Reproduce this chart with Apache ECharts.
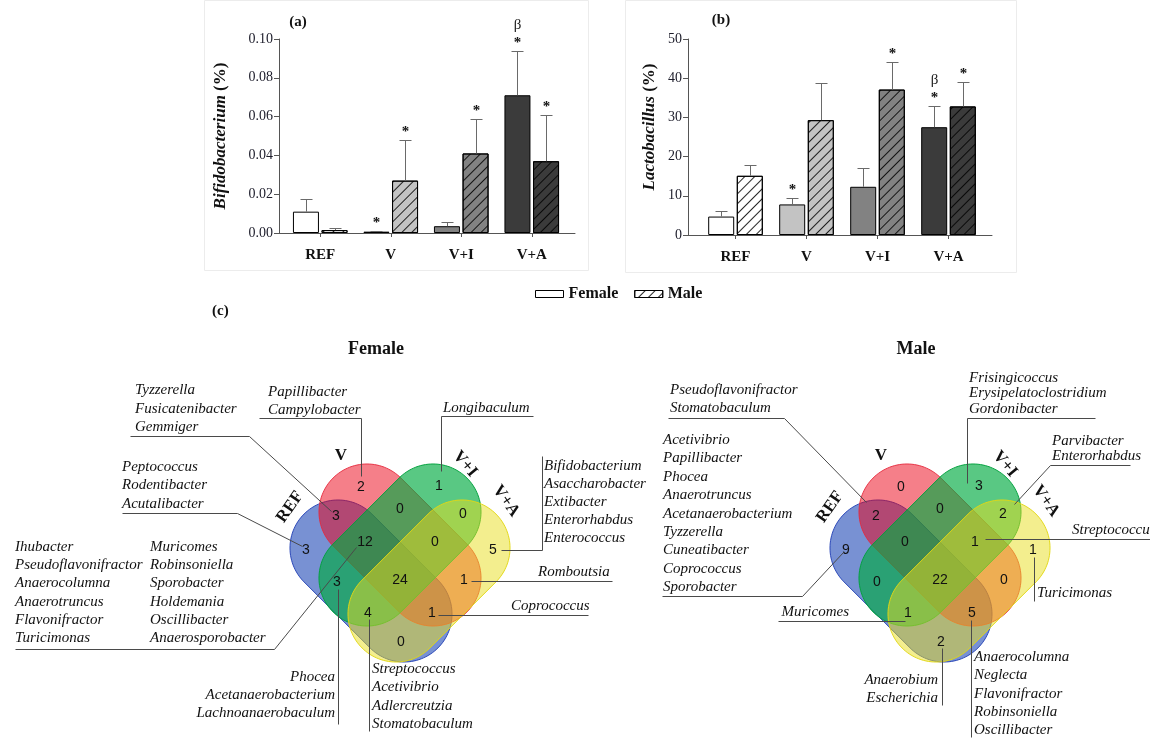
<!DOCTYPE html>
<html><head><meta charset="utf-8">
<script src="https://cdn.jsdelivr.net/npm/echarts@6/dist/echarts.min.js"></script>
<style>html,body{margin:0;padding:0;background:#fff}#c{width:1150px;height:740px}</style>
</head><body><div id="c"></div>
<script>
// ================= DATA =================
const groups = ['REF', 'V', 'V+I', 'V+A'];
const sexes = ['Female', 'Male'];
// (a) Bifidobacterium (%)
const bifidoTickLabels = ['0.00', '0.02', '0.04', '0.06', '0.08', '0.10'];
const bifidoFemale   = [0.011, 0.0007, 0.0035, 0.071];
const bifidoFemaleSD = [0.0063, 0.0003, 0.0023, 0.023];
const bifidoMale     = [0.0015, 0.027, 0.041, 0.037];
const bifidoMaleSD   = [0.0009, 0.021, 0.018, 0.024];
const bifidoFemaleStar = [0, 1, 0, 1];
const bifidoFemaleBeta = [0, 0, 0, 1];
const bifidoMaleStar   = [0, 1, 1, 1];
const bifidoMaleBeta   = [0, 0, 0, 0];
// (b) Lactobacillus (%)
const lactoTickLabels = ['0', '10', '20', '30', '40', '50'];
const lactoFemale   = [4.7, 7.8, 12.3, 27.5];
const lactoFemaleSD = [1.3, 1.6, 4.9, 5.3];
const lactoMale     = [15.1, 29.3, 37.1, 32.8];
const lactoMaleSD   = [2.8, 9.4, 7.0, 6.2];
const lactoFemaleStar = [0, 1, 0, 1];
const lactoFemaleBeta = [0, 0, 0, 1];
const lactoMaleStar   = [0, 0, 1, 1];
const lactoMaleBeta   = [0, 0, 0, 0];
// (c) Venn diagrams
const vennSets = ['REF', 'V', 'V+I', 'V+A'];
const vennRegions = ['V', 'V+I', 'REF∩V', 'V∩V+I', 'V+I∩V+A', 'REF', 'REF∩V∩V+I', 'V∩V+I∩V+A',
  'V+A', 'REF∩V+I', 'ALL', 'V∩V+A', 'REF∩V+I∩V+A', 'REF∩V∩V+A', 'REF∩V+A'];
const femaleCounts = [2, 1, 3, 0, 0, 3, 12, 0, 5, 3, 24, 1, 4, 1, 0];
const maleCounts   = [0, 3, 2, 0, 2, 9, 0, 1, 1, 0, 22, 0, 1, 5, 2];
// genera lists (female)
const fRefV = ['Tyzzerella', 'Fusicatenibacter', 'Gemmiger'];
const fV = ['Papillibacter', 'Campylobacter'];
const fVI = ['Longibaculum'];
const fRef = ['Peptococcus', 'Rodentibacter', 'Acutalibacter'];
const fRefVVIcol1 = ['Ihubacter', 'Pseudoflavonifractor', 'Anaerocolumna', 'Anaerotruncus', 'Flavonifractor', 'Turicimonas'];
const fRefVVIcol2 = ['Muricomes', 'Robinsoniella', 'Sporobacter', 'Holdemania', 'Oscillibacter', 'Anaerosporobacter'];
const fVA = ['Bifidobacterium', 'Asaccharobacter', 'Extibacter', 'Enterorhabdus', 'Enterococcus'];
const fVVA = ['Romboutsia'];
const fRefVVA = ['Coprococcus'];
const fRefVI = ['Phocea', 'Acetanaerobacterium', 'Lachnoanaerobaculum'];
const fRefVIVA = ['Streptococcus', 'Acetivibrio', 'Adlercreutzia', 'Stomatobaculum'];
// genera lists (male)
const mRefV = ['Pseudoflavonifractor', 'Stomatobaculum'];
const mRef = ['Acetivibrio', 'Papillibacter', 'Phocea', 'Anaerotruncus', 'Acetanaerobacterium', 'Tyzzerella', 'Cuneatibacter', 'Coprococcus', 'Sporobacter'];
const mVI = ['Frisingicoccus', 'Erysipelatoclostridium', 'Gordonibacter'];
const mVIVA = ['Parvibacter', 'Enterorhabdus'];
const mVVIVA = ['Streptococcus'];
const mVA = ['Turicimonas'];
const mRefVIVA = ['Muricomes'];
const mRefVA = ['Anaerobium', 'Escherichia'];
const mRefVVA = ['Anaerocolumna', 'Neglecta', 'Flavonifractor', 'Robinsoniella', 'Oscillibacter'];

// ================= STYLE / LAYOUT =================
const SERIF = '"Liberation Serif", "Times New Roman", serif';
const SANS = '"Liberation Sans", Arial, sans-serif';
const groupFill = ['#ffffff', '#c3c3c3', '#828282', '#3b3b3b'];
const hatch = { symbol: 'rect', symbolSize: 1, dashArrayX: [1, 0], dashArrayY: [1, 6], rotation: -Math.PI / 4, color: 'rgba(0,0,0,0.85)' };
const BAR_W = 26, HALF_OFF = 14.3;

function barSeries(name, values, axisIdx, male) {
  const st = { color: '#ffffff', borderColor: '#000', borderWidth: 1 };
  if (male) st.decal = hatch;
  return {
    type: 'bar', name, xAxisIndex: axisIdx, yAxisIndex: axisIdx, barWidth: BAR_W, barGap: '10%',
    itemStyle: st, silent: true,
    data: values.map((v, i) => ({ value: v, itemStyle: { color: groupFill[i] } }))
  };
}
function errSeries(values, sds, stars, betas, axisIdx, side) {
  return {
    type: 'custom', xAxisIndex: axisIdx, yAxisIndex: axisIdx, silent: true, z: 5,
    data: values.map((v, i) => [i, v, sds[i], stars[i], betas[i]]),
    renderItem(params, api) {
      const i = api.value(0), v = api.value(1), sd = api.value(2);
      const base = api.coord([i, v]);
      const top = api.coord([i, v + sd]);
      const x = Math.round(base[0] + side * HALF_OFF) + 0.5;
      const yt = Math.round(top[1]) + 0.5;
      const ch = [
        { type: 'line', shape: { x1: x, y1: base[1], x2: x, y2: yt }, style: { stroke: '#6a6a6a', lineWidth: 1 } },
        { type: 'line', shape: { x1: x - 6, y1: yt, x2: x + 6, y2: yt }, style: { stroke: '#6a6a6a', lineWidth: 1 } }
      ];
      if (api.value(3)) ch.push({ type: 'text', x: x, y: yt - 1, style: { text: '*', font: 'bold 15px ' + SERIF, fill: '#111', align: 'center', verticalAlign: 'bottom' } });
      if (api.value(4)) ch.push({ type: 'text', x: x, y: yt - 19, style: { text: 'β', font: '15px ' + SERIF, fill: '#222', align: 'center', verticalAlign: 'bottom' } });
      return { type: 'group', children: ch };
    }
  };
}
function frameX(gi) {
  return { gridIndex: gi, type: 'value', min: 0, max: 1, axisLine: { show: true, lineStyle: { color: '#555', width: 1 } },
    axisTick: { show: false }, axisLabel: { show: false }, splitLine: { show: false } };
}
function catX(gi) {
  return { gridIndex: gi, type: 'category', data: groups, axisLine: { show: true, lineStyle: { color: '#555' } },
    axisTick: { show: true, alignWithLabel: true, length: 4, lineStyle: { color: '#555' } },
    axisLabel: { fontFamily: SERIF, fontWeight: 'bold', fontSize: 15, color: '#111', margin: 15 } };
}
function valY(gi, max, interval, labels, title, gap, show, shiftUp) {
  const o = { gridIndex: gi, type: 'value', min: 0, max, interval, splitLine: { show: false } };
  if (!show) { o.show = false; return o; }
  Object.assign(o, {
    axisLine: { show: true, lineStyle: { color: '#555' } },
    axisTick: { show: true, length: 5, lineStyle: { color: '#555' } },
    axisLabel: { fontFamily: SERIF, fontSize: 14, color: '#1c1c2a', margin: 6, formatter: (v, idx) => labels[idx] },
    name: '{i|' + title + '} (%)', nameLocation: 'middle', nameGap: gap, nameRotate: 90,
    nameTextStyle: { fontFamily: SERIF, fontWeight: 'bold', fontSize: 17, color: '#111', padding: [0, 0, 0, 2 * shiftUp],
      rich: { i: { fontFamily: SERIF, fontWeight: 'bold', fontStyle: 'italic', fontSize: 17, color: '#111' } } }
  });
  return o;
}

// ---------- graphic helpers ----------
const G = [];
function txt(x, y, text, font, align, vAlign, rot, fill) {
  G.push({ type: 'text', x, y, rotation: rot || 0, silent: true,
    style: { text, font, fill: fill || '#111', align: align || 'left', verticalAlign: vAlign || 'middle' } });
}
function pline(points, color) {
  G.push({ type: 'polyline', silent: true, shape: { points: points.map(p => [Math.round(p[0]) + 0.5, Math.round(p[1]) + 0.5]) },
    style: { stroke: color || '#4a4a4a', lineWidth: 1, fill: null } });
}
// stadium (capsule) outline: centre, half distance between cap centres L, cap radius w, axis angle phi
function stadiumPts(cx, cy, L, w, phi) {
  const ux = Math.cos(phi), uy = Math.sin(phi), pts = [], n = 60;
  for (let k = 0; k <= n; k++) { const t = phi - Math.PI / 2 + Math.PI * k / n; pts.push([cx + L * ux + w * Math.cos(t), cy + L * uy + w * Math.sin(t)]); }
  for (let k = 0; k <= n; k++) { const t = phi + Math.PI / 2 + Math.PI * k / n; pts.push([cx - L * ux + w * Math.cos(t), cy - L * uy + w * Math.sin(t)]); }
  return pts;
}
const CAP_L = 46.7, CAP_W = 48;
const vennShapes = [
  { set: 'REF', dx: -29, dy: 36, phi: Math.PI / 4, fill: 'rgba(10,55,175,0.55)', stroke: 'rgba(30,60,180,0.9)' },
  { set: 'V',   dx: 0, dy: 0, phi: Math.PI / 4, fill: 'rgba(235,0,20,0.5)', stroke: 'rgba(230,40,60,0.9)' },
  { set: 'V+I', dx: 0, dy: 0, phi: -Math.PI / 4, fill: 'rgba(0,170,65,0.65)', stroke: 'rgba(0,160,60,0.95)' },
  { set: 'V+A', dx: 29, dy: 36, phi: -Math.PI / 4, fill: 'rgba(232,222,30,0.5)', stroke: 'rgba(225,215,20,0.95)' }
];
const regionPos = [[-39, -58], [39, -59], [-64, -29], [0, -36], [63, -31], [-94, 5], [-35, -3], [35, -3],
  [93, 5], [-63, 37], [0, 35], [64, 35], [-32, 68], [32, 68], [1, 97]];
const setLabelPos = { 'REF': [-110, -38, 0.96], 'V': [-59, -89, 0], 'V+I': [65, -81, -0.87], 'V+A': [106, -44, -0.96] };

function drawVenn(cx, cy, titleX, title, counts) {
  txt(titleX, 349, title, 'bold 18px ' + SERIF, 'center', 'middle');
  vennShapes.forEach(s => {
    G.push({ type: 'polygon', silent: true, shape: { points: stadiumPts(cx + s.dx, cy + s.dy, CAP_L, CAP_W, s.phi) },
      style: { fill: s.fill, stroke: s.stroke, lineWidth: 1 } });
  });
  vennSets.forEach(s => {
    const p = setLabelPos[s];
    txt(cx + p[0], cy + p[1], s, 'bold 17px ' + SERIF, 'center', 'middle', p[2]);
  });
  counts.forEach((c, i) => txt(cx + regionPos[i][0], cy + regionPos[i][1], String(c), '14px ' + SANS, 'center', 'middle'));
}
const LIST_FONT = 'italic 15px ' + SERIF;
function callout(names, x, y, lh, align, line) {
  names.forEach((n, k) => txt(x, y + k * lh, n, LIST_FONT, align, 'middle'));
  if (line) pline(line);
}

// panel frames and labels
G.push({ type: 'rect', silent: true, shape: { x: 204.5, y: 0.5, width: 384, height: 270 }, style: { fill: null, stroke: '#ececec', lineWidth: 1 } });
G.push({ type: 'rect', silent: true, shape: { x: 625.5, y: 0.5, width: 391, height: 272 }, style: { fill: null, stroke: '#ececec', lineWidth: 1 } });
txt(298, 22, '(a)', 'bold 15px ' + SERIF, 'center', 'middle');
txt(721, 20, '(b)', 'bold 15px ' + SERIF, 'center', 'middle');
txt(212, 311, '(c)', 'bold 15px ' + SERIF, 'left', 'middle');

// ---- female Venn ----
drawVenn(400, 545, 376, 'Female', femaleCounts);
callout(fRefV, 135, 390, 18.7, 'left', [[130, 436], [249, 436], [331, 511]]);
callout(fV, 268, 392, 18.5, 'left', [[259, 418], [361, 418], [361, 476]]);
callout(fVI, 443, 408, 18, 'left', [[441, 471], [441, 416], [533, 416]]);
callout(fRef, 122, 467, 18.3, 'left', [[122, 513], [237, 513], [302, 546]]);
callout(fRefVVIcol1, 15, 547, 18.2, 'left', [[15, 649], [274, 649], [356, 547]]);
callout(fRefVVIcol2, 150, 547, 18.2, 'left', null);
callout(fVA, 544, 466, 18.1, 'left', [[501, 550], [542, 550], [542, 456]]);
callout(fVVA, 538, 572, 18, 'left', [[471, 581], [612, 581]]);
callout(fRefVVA, 511, 606, 18, 'left', [[438, 615], [588, 615]]);
callout(fRefVI, 335, 677, 18, 'right', [[338, 589], [338, 724]]);
callout(fRefVIVA, 372, 669, 18.3, 'left', [[369, 619], [369, 731]]);

// ---- male Venn ----
drawVenn(940, 545, 916, 'Male', maleCounts);
callout(mRefV, 670, 390, 18.5, 'left', [[668, 418], [784, 418], [866, 502]]);
callout(mRef, 663, 440, 18.4, 'left', [[662, 596], [802, 596], [843, 552]]);
callout(mVI, 969, 378, 15.4, 'left', [[967, 483], [967, 418], [1095, 418]]);
callout(mVIVA, 1052, 441, 15.4, 'left', [[1014, 504], [1050, 465], [1130, 465]]);
callout(mVVIVA, 1072, 530, 18, 'left', [[985, 539], [1150, 539]]);
callout(mVA, 1037, 593, 18, 'left', [[1034, 557], [1034, 601]]);
callout(mRefVIVA, 849, 612, 18, 'right', [[778, 621], [905, 621]]);
callout(mRefVA, 938, 680, 18, 'right', [[942, 648], [942, 705]]);
callout(mRefVVA, 974, 657, 18.3, 'left', [[971, 620], [971, 737]]);

// ================= OPTION =================
const option = {
  animation: false,
  backgroundColor: '#ffffff',
  grid: [
    { left: 279, top: 39, width: 296, height: 194, outerBoundsMode: 'none' },
    { left: 285, top: 39, width: 282, height: 194, outerBoundsMode: 'none' },
    { left: 688, top: 39, width: 304, height: 196, outerBoundsMode: 'none' },
    { left: 700, top: 39, width: 284, height: 196, outerBoundsMode: 'none' }
  ],
  xAxis: [frameX(0), catX(1), frameX(2), catX(3)],
  yAxis: [
    valY(0, 0.10, 0.02, bifidoTickLabels, 'Bifidobacterium', 50, true, 0),
    valY(1, 0.10, 0.02, bifidoTickLabels, '', 0, false, 0),
    valY(2, 50, 10, lactoTickLabels, 'Lactobacillus', 30, true, 10),
    valY(3, 50, 10, lactoTickLabels, '', 0, false, 0)
  ],
  legend: {
    data: sexes, left: 530, top: 281, itemWidth: 28, itemHeight: 7, itemGap: 16, icon: 'rect', selectedMode: false,
    itemStyle: { borderWidth: 1, borderColor: '#000' },
    textStyle: { fontFamily: SERIF, fontWeight: 'bold', fontSize: 16, color: '#111' }
  },
  series: [
    barSeries('Female', bifidoFemale, 1, false),
    barSeries('Male', bifidoMale, 1, true),
    errSeries(bifidoFemale, bifidoFemaleSD, bifidoFemaleStar, bifidoFemaleBeta, 1, -1),
    errSeries(bifidoMale, bifidoMaleSD, bifidoMaleStar, bifidoMaleBeta, 1, 1),
    barSeries('Female', lactoFemale, 3, false),
    barSeries('Male', lactoMale, 3, true),
    errSeries(lactoFemale, lactoFemaleSD, lactoFemaleStar, lactoFemaleBeta, 3, -1),
    errSeries(lactoMale, lactoMaleSD, lactoMaleStar, lactoMaleBeta, 3, 1)
  ],
  graphic: G
};
const chart = echarts.init(document.getElementById('c'), null, { renderer: 'canvas' });
chart.setOption(option);
</script>
</body></html>
